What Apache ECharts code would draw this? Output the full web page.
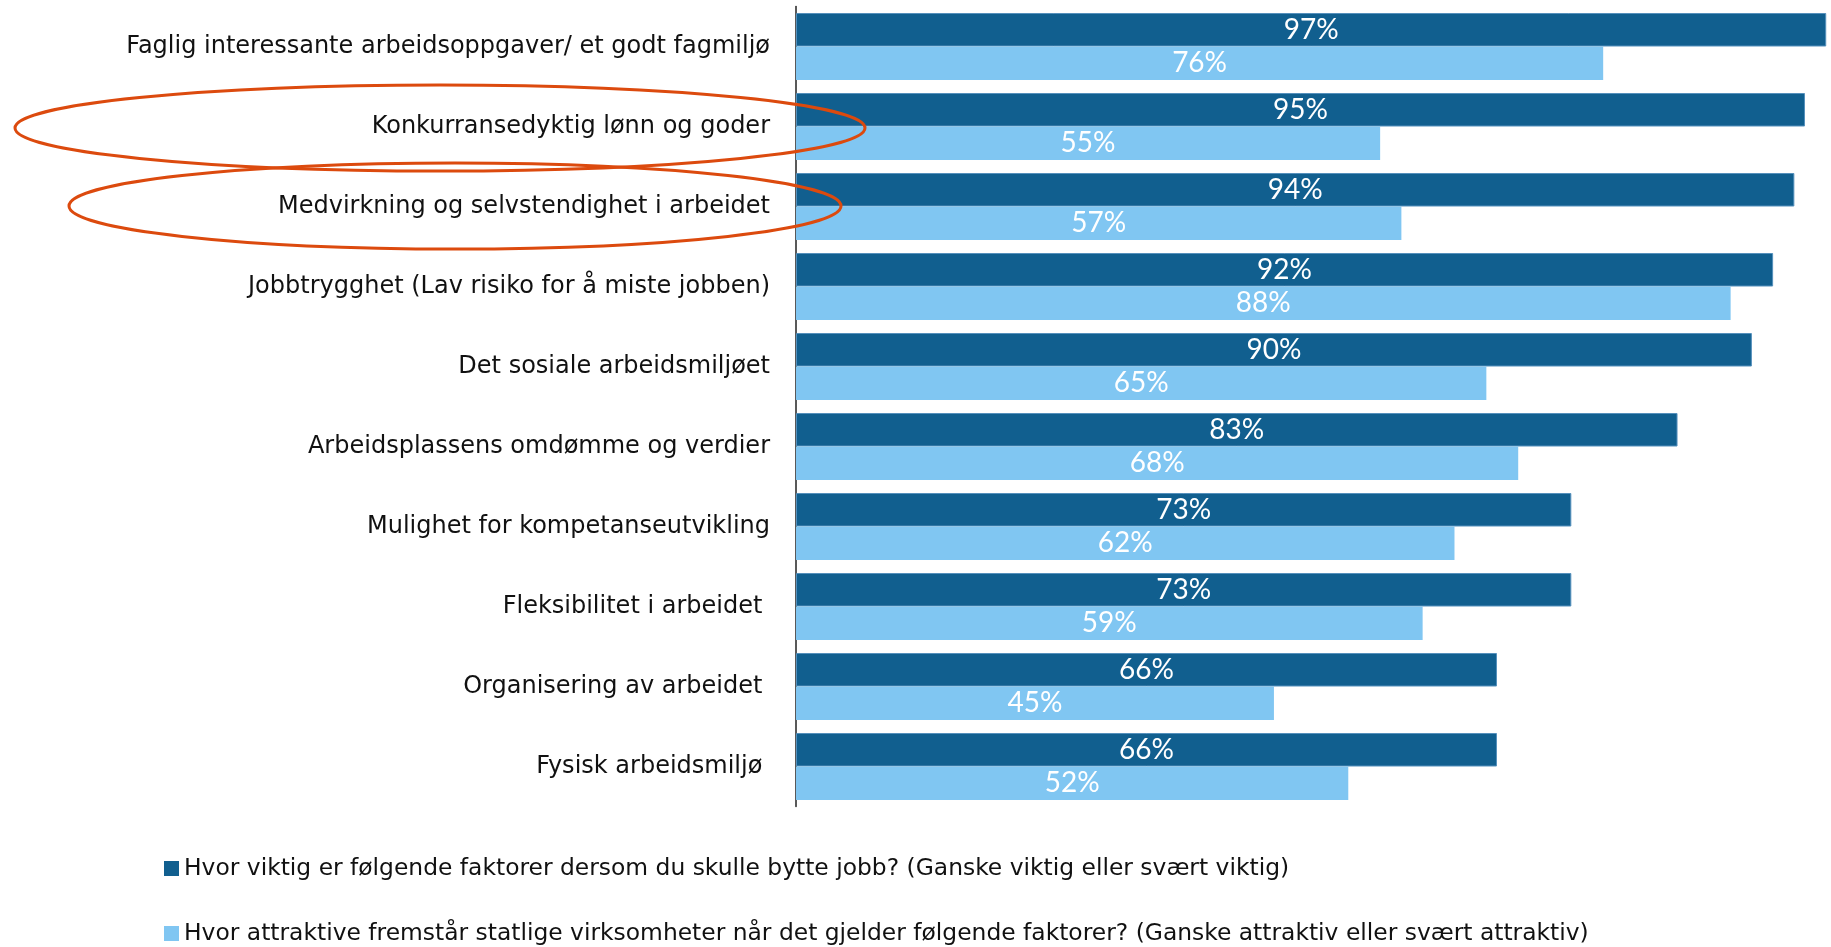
<!DOCTYPE html>
<html><head><meta charset="utf-8">
<script src="https://cdn.jsdelivr.net/npm/echarts@6/dist/echarts.min.js"></script>
<style>html,body{margin:0;padding:0;background:#fff}#c{width:1831px;height:947px}</style>
</head><body><div id="c"></div>
<script>
const categories = [
  "Faglig interessante arbeidsoppgaver/ et godt fagmiljø",
  "Konkurransedyktig lønn og goder",
  "Medvirkning og selvstendighet i arbeidet",
  "Jobbtrygghet (Lav risiko for å miste jobben)",
  "Det sosiale arbeidsmiljøet",
  "Arbeidsplassens omdømme og verdier",
  "Mulighet for kompetanseutvikling",
  "Fleksibilitet i arbeidet ",
  "Organisering av arbeidet ",
  "Fysisk arbeidsmiljø "
];
const seriesNames = [
  "Hvor viktig er følgende faktorer dersom du skulle bytte jobb? (Ganske viktig eller svært viktig)",
  "Hvor attraktive fremstår statlige virksomheter når det gjelder følgende faktorer? (Ganske attraktiv eller svært attraktiv)"
];
const importance = [97, 95, 94, 92, 90, 83, 73, 73, 66, 66];
const attractiveness = [76, 55, 57, 88, 65, 68, 62, 59, 45, 52];

const FONT = "DejaVu Sans";
const chart = echarts.init(document.getElementById('c'), null, {renderer: 'canvas'});
const labelCfg = {show: true, position: 'inside', color: '#fff', fontSize: 28, fontFamily: 'Lato', formatter: p => p.value + '%'};
const legendBase = {
  orient: 'horizontal', left: 159, itemWidth: 15, itemHeight: 15, icon: 'rect',
  itemGap: 10, selectedMode: false,
  itemStyle: {borderWidth: 0},
  textStyle: {fontSize: 23.4, color: '#111', fontFamily: FONT}
};
chart.setOption({
  animation: false,
  textStyle: {fontFamily: FONT},
  grid: {left: 796, top: 6.5, right: 0, height: 800},
  xAxis: {type: 'value', min: 0, max: 97.45, show: false},
  yAxis: {
    type: 'category', data: categories, inverse: true,
    axisLine: {show: true, lineStyle: {color: '#222', width: 1.5}},
    axisTick: {show: false},
    axisLabel: {color: '#111', fontSize: 24, fontFamily: FONT, margin: 26}
  },
  legend: [
    Object.assign({}, legendBase, {top: 852, data: [seriesNames[0]]}),
    Object.assign({}, legendBase, {top: 917, data: [seriesNames[1]]})
  ],
  series: [
    {name: seriesNames[0], type: 'bar', data: importance, barWidth: 33.5, barGap: '0%',
     itemStyle: {color: '#115F8F', borderColor: '#5590BC', borderWidth: 1}, label: labelCfg},
    {name: seriesNames[1], type: 'bar', data: attractiveness, barWidth: 33.5, barGap: '0%',
     itemStyle: {color: '#80C6F2'}, label: labelCfg}
  ],
  graphic: [
    {type: 'ellipse', shape: {cx: 440, cy: 128, rx: 425, ry: 43}, style: {fill: 'none', stroke: '#DC4A0E', lineWidth: 3}, z: 100},
    {type: 'ellipse', shape: {cx: 455, cy: 206, rx: 386, ry: 43}, style: {fill: 'none', stroke: '#DC4A0E', lineWidth: 3}, z: 100}
  ]
});
</script></body></html>
